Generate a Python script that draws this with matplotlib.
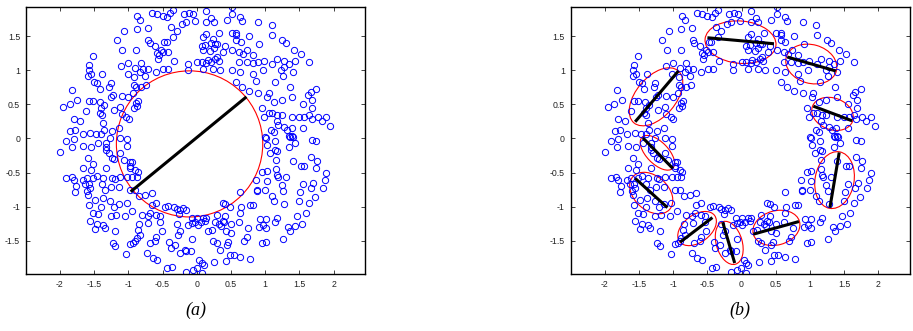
import numpy as np
import matplotlib
matplotlib.use("Agg")
from matplotlib import pyplot as plt
from matplotlib.patches import Ellipse

plt.rcParams['font.family'] = ['Liberation Sans', 'DejaVu Sans']

# scatter points (same set in both panels)
points = [
    (-0.87, 1.79), (-0.83, 1.74), (-0.65, 1.84), (-0.58, 1.83), (-0.50, 1.79), (-0.43, 1.78), (-0.35, 1.88),
    (-0.39, 1.84), (-0.19, 1.82), (-0.115, 1.84), (-0.05, 1.83), (-0.02, 1.72), (-0.15, 1.70), (-0.21, 1.68),
    (0.14, 1.86), (0.21, 1.77), (0.245, 1.70), (0.52, 1.93), (0.52, 1.83), (0.63, 1.78), (0.66, 1.72),
    (0.435, 1.74), (0.57, 1.55), (0.58, 1.52), (0.51, 1.54), (0.77, 1.50), (0.90, 1.70), (-0.37, 1.63),
    (-0.295, 1.57), (-0.34, 1.49), (-0.72, 1.62), (-0.88, 1.60), (-1.06, 1.57), (-1.17, 1.44), (-0.71, 1.44),
    (-0.69, 1.40), (-0.61, 1.35), (-0.48, 1.41), (-0.44, 1.41), (-0.52, 1.29), (-0.49, 1.26), (-0.42, 1.27),
    (-0.58, 1.25), (-0.56, 1.17), (-0.55, 1.22), (-0.89, 1.29), (-1.09, 1.29), (-1.51, 1.21), (-1.57, 1.07),
    (-1.58, 1.00), (-1.55, 0.95), (-1.385, 0.95), (-1.59, 0.91), (-1.50, 0.82), (-1.46, 0.81), (-1.42, 0.73),
    (-1.26, 0.81), (-1.28, 0.76), (-1.22, 0.63), (-1.25, 0.60), (-1.82, 0.71), (-1.95, 0.46), (-1.86, 0.51),
    (-1.75, 0.57), (-1.575, 0.545), (-1.52, 0.545), (-1.41, 0.53), (-1.36, 0.49), (-1.395, 0.44), (-1.42, 0.37),
    (-1.39, 0.34), (-1.62, 0.40), (-1.80, 0.29), (-1.71, 0.26), (-1.85, 0.11), (-1.78, 0.12), (-1.67, 0.07),
    (-1.56, 0.08), (-1.47, 0.07), (-1.40, 0.07), (-1.35, 0.13), (-1.37, 0.22), (-1.24, 0.11), (-1.14, 0.16),
    (-1.215, 0.41), (-1.12, 0.46), (-1.10, 0.36), (-1.035, 0.31), (-0.995, 0.29), (-1.10, 0.62), (-1.00, 0.60),
    (-0.89, 0.52), (-0.87, 0.47), (-0.92, 0.45), (-0.86, 0.55), (-0.92, 0.78), (-0.89, 0.75), (-0.815, 0.76),
    (-0.74, 0.78), (-0.93, 0.67), (-0.92, 0.90), (-0.90, 1.03), (-0.83, 0.97), (-0.78, 1.02), (-0.71, 1.01),
    (-0.75, 0.91), (-0.81, 1.11), (-1.00, 1.10), (-1.11, 1.06), (-1.01, 0.95), (-0.59, 0.98), (-0.49, 1.01),
    (-0.42, 1.01), (-0.33, 1.13), (-0.13, 1.09), (-0.13, 1.00), (0.00, 1.115), (0.07, 1.115), (0.09, 1.01),
    (0.14, 1.10), (0.16, 1.15), (0.21, 1.115), (0.24, 1.02), (0.27, 1.16), (0.32, 1.13), (0.34, 1.00),
    (0.51, 1.00), (0.63, 0.98), (0.62, 1.12), (0.73, 1.12), (0.68, 1.24), (0.62, 1.26), (0.74, 1.30),
    (0.82, 1.22), (0.82, 1.10), (0.90, 1.12), (0.82, 0.95), (0.86, 0.84), (0.76, 0.70), (0.66, 0.75),
    (0.58, 0.82), (0.245, 1.32), (0.265, 1.39), (0.24, 1.45), (0.21, 1.40), (0.30, 1.39), (0.12, 1.37),
    (0.09, 1.48), (0.14, 1.53), (0.07, 1.35), (0.09, 1.29), (0.20, 1.28), (0.41, 1.35), (0.39, 1.27),
    (0.30, 1.20), (0.33, 1.54), (0.64, 1.42), (0.58, 1.44), (0.52, 1.30), (0.14, 1.70),
    (1.094, 1.665), (1.104, 1.51), (0.91, 1.39), (1.25, 1.44), (1.31, 1.40), (1.42, 1.29), (1.53, 1.24),
    (1.64, 1.12), (0.98, 1.13), (0.97, 1.00), (1.104, 1.095), (1.167, 1.17), (1.28, 1.14), (1.35, 1.095),
    (1.435, 1.13), (1.40, 0.97), (1.23, 1.00), (1.28, 1.05), (1.265, 0.91), (1.15, 0.83), (1.37, 0.755),
    (0.90, 0.66), (1.05, 0.67), (1.03, 0.61), (1.13, 0.54), (1.24, 0.565), (1.396, 0.60), (1.55, 0.51),
    (1.63, 0.63), (1.664, 0.682), (1.75, 0.73), (1.69, 0.56), (1.69, 0.45), (0.95, 0.44), (0.98, 0.32),
    (1.05, 0.375), (1.104, 0.375), (1.177, 0.34), (1.24, 0.34), (1.167, 0.26), (1.19, 0.195), (1.28, 0.17),
    (1.32, 0.13), (1.386, 0.146), (1.35, 0.035), (1.396, 0.035), (1.396, 0.307), (1.50, 0.307), (1.566, 0.307),
    (1.64, 0.34), (1.68, 0.28), (1.766, 0.307), (1.825, 0.254), (1.888, 0.307), (1.946, 0.18), (1.56, 0.16),
    (1.085, 0.13), (1.133, 0.098), (0.997, 0.025),
    (-1.998, -0.195), (-1.91, -0.035), (-1.80, -0.01), (-1.82, -0.12), (-1.66, -0.11), (-1.54, -0.12),
    (-1.44, -0.07), (-1.33, -0.07), (-1.32, -0.12), (-1.27, 0.0), (-1.12, 0.0), (-1.015, -0.01), (-1.02, -0.11),
    (-1.33, -0.17), (-1.29, -0.22), (-1.24, -0.28), (-1.21, -0.30), (-1.12, -0.22), (-1.07, -0.32),
    (-1.585, -0.28), (-1.51, -0.38), (-1.55, -0.46), (-1.66, -0.43), (-1.32, -0.44), (-0.98, -0.34),
    (-0.95, -0.34), (-0.97, -0.41), (-0.98, -0.44), (-0.90, -0.46), (-0.864, -0.497), (-0.88, -0.56),
    (-0.94, -0.56), (-1.015, -0.56), (-1.12, -0.57), (-1.24, -0.575), (-1.365, -0.585), (-1.46, -0.545),
    (-1.51, -0.585), (-1.61, -0.575), (-1.67, -0.61), (-1.83, -0.56), (-1.91, -0.575), (-1.80, -0.61),
    (-1.76, -0.69), (-1.78, -0.78), (-1.63, -0.66), (-1.57, -0.67), (-1.56, -0.73), (-1.60, -0.77),
    (-1.585, -0.83), (-1.57, -0.97), (-1.49, -0.90), (-1.375, -0.877), (-1.39, -0.66), (-1.34, -0.755),
    (-1.25, -0.706), (-1.27, -0.915), (-1.13, -0.706), (-1.20, -0.60), (-0.98, -0.755), (-0.90, -0.755),
    (-0.84, -0.84), (-0.76, -0.83), (-0.66, -0.80), (-1.13, -0.964), (-1.025, -0.95), (-0.95, -1.07),
    (-1.05, -1.14), (-1.18, -1.12), (-1.26, -1.14), (-1.21, -1.00), (-1.40, -1.01), (-1.52, -1.095),
    (-1.44, -1.11), (-1.56, -1.21), (-1.46, -1.26), (-1.365, -1.27), (-1.34, -1.31), (-1.49, -1.33),
    (-1.195, -1.36), (-1.23, -1.53), (-1.195, -1.58), (-1.035, -1.69), (-0.976, -1.55), (-0.90, -1.50),
    (-0.88, -1.46), (-0.93, -1.53), (-0.84, -1.26), (-0.855, -1.34), (-0.83, -1.41), (-0.806, -1.12),
    (-0.685, -1.096), (-0.72, -1.14), (-0.71, -1.24), (-0.59, -0.95), (-0.66, -0.97), (-0.597, -1.12),
    (-0.53, -1.14), (-0.54, -1.22), (-0.514, -1.36), (-0.59, -1.44), (-0.61, -1.50), (-0.69, -1.53),
    (-0.73, -1.68), (-0.645, -1.75), (-0.577, -1.78), (-0.43, -1.90), (-0.368, -1.88), (-0.40, -1.51),
    (-0.383, -1.61), (-0.32, -1.56), (-0.27, -1.41), (-0.246, -1.36), (-0.42, -0.99), (-0.465, -1.00),
    (-0.33, -1.00), (-0.295, -1.03), (-0.246, -1.047), (-0.20, -1.013), (-0.15, -1.047), (-0.256, -1.11),
    (-0.173, -1.63), (-0.15, -1.65), (-0.085, -1.655), (-0.246, -1.68), (-0.066, -1.475), (-0.15, -1.95),
    (-0.06, -1.92), (-0.003, -1.90), (0.07, -1.97), (0.07, -1.83), (0.036, -1.78), (0.10, -1.85),
    (0.25, -1.81), (0.425, -1.80), (0.48, -1.70), (0.54, -1.71), (0.63, -1.73), (0.775, -1.76),
    (-0.125, -1.27), (-0.066, -1.24), (-0.027, -1.22), (0.012, -1.27), (0.055, -1.23), (0.12, -1.21),
    (0.094, -1.16), (0.167, -1.35), (0.23, -1.34), (0.265, -1.22), (0.29, -1.12), (0.33, -1.26),
    (0.377, -1.21), (0.36, -1.28), (0.40, -1.23), (0.41, -1.14), (0.508, -1.26), (0.508, -1.39),
    (0.425, -1.36), (0.24, -1.50), (0.29, -1.53), (0.46, -1.51), (0.435, -1.56), (0.34, -1.63),
    (0.14, -1.17), (0.377, -0.95), (0.41, -0.96), (0.48, -1.00), (0.63, -0.79), (0.65, -1.00),
    (0.63, -1.095), (0.62, -1.22), (0.75, -1.31), (0.73, -1.44), (0.69, -1.50), (0.785, -0.97),
    (0.82, -0.98), (0.88, -0.755), (0.87, -0.61), (-0.295, -1.26), (0.0, -1.16), (-0.076, -1.17),
    (1.01, 0.0), (1.143, -0.04), (1.36, 0.024), (1.41, 0.024), (1.435, -0.06), (1.35, -0.12), (1.68, -0.025),
    (1.74, -0.04), (1.03, -0.098), (1.07, -0.22), (1.143, -0.17), (1.18, -0.18), (1.16, -0.32), (1.40, -0.33),
    (1.67, -0.27), (1.76, -0.33), (1.75, -0.44), (1.53, -0.40), (1.57, -0.41), (0.95, -0.49), (1.02, -0.48),
    (1.16, -0.453), (1.18, -0.53), (1.19, -0.56), (1.31, -0.57), (1.888, -0.50), (1.87, -0.61), (1.84, -0.73),
    (1.70, -0.65), (1.664, -0.73), (1.56, -0.67), (1.51, -0.79), (1.73, -0.86), (1.64, -0.95), (1.50, -0.915),
    (1.24, -0.68), (1.265, -0.77), (1.02, -0.63), (1.0, -0.755), (0.885, -0.77), (1.094, -0.837),
    (1.133, -0.915), (1.28, -0.96), (1.47, -1.14), (1.59, -1.09), (1.177, -1.16), (1.14, -1.23), (0.93, -1.18),
    (1.01, -1.18), (0.91, -1.29), (0.97, -1.27), (1.01, -1.305), (1.34, -1.29), (1.37, -1.35), (1.435, -1.28),
    (1.54, -1.26), (1.265, -1.475), (0.95, -1.53), (1.01, -1.51),
]

# panel (a): one circle with a diameter
circ_center = (-0.105, -0.08)
circ_radius = 1.07
diam_x = [-0.966, 0.727]
diam_y = [-0.78, 0.61]

# panel (b): ellipse components and their main axes
ell_cx = [-1.25, -1.23, -1.32, -0.65, -0.18, 0.51, 1.36, 1.33, 1.02, -0.015]
ell_cy = [0.61, -0.21, -0.80, -1.32, -1.53, -1.31, -0.61, 0.36, 1.09, 1.41]
ell_a = [0.50, 0.32, 0.36, 0.32, 0.325, 0.35, 0.42, 0.313, 0.38, 0.52]
ell_b = [0.29, 0.16, 0.25, 0.20, 0.19, 0.25, 0.285, 0.231, 0.283, 0.31]
ell_ang = [49.7, -45.6, -42, 37, -73.7, 15.5, 80, -20.7, -16, -5]
seg_x0 = [-1.555, -1.443, -1.555, -0.898, -0.275, 0.173, 1.292, 1.049, 0.669, -0.499]
seg_y0 = [0.244, 0.009, -0.585, -1.519, -1.227, -1.402, -1.013, 0.473, 1.193, 1.475]
seg_x1 = [-0.923, -1.005, -1.083, -0.426, -0.10, 0.839, 1.428, 1.618, 1.379, 0.474]
seg_y1 = [0.988, -0.439, -1.013, -1.159, -1.825, -1.217, -0.205, 0.258, 0.988, 1.387]

xticks = [-2, -1.5, -1, -0.5, 0, 0.5, 1, 1.5, 2]
yticks = [-1.5, -1, -0.5, 0, 0.5, 1, 1.5]
captions = ['(a)', '(b)']

pts = np.array(points)

fig = plt.figure(figsize=(9.13, 3.31), dpi=100)
ax_a = fig.add_axes([0.0282, 0.1713, 0.3716, 0.8085])
ax_b = fig.add_axes([0.6249, 0.1713, 0.3716, 0.8085])


def style(ax):
    ax.set_xlim(-2.5, 2.46)
    ax.set_ylim(-1.99, 1.93)
    ax.set_xticks(xticks)
    ax.set_xticklabels(['%g' % t for t in xticks])
    ax.set_yticks(yticks)
    ax.set_yticklabels(['%g' % t for t in yticks])
    ax.tick_params(direction='in', top=True, right=True, length=3, width=0.6,
                   labelsize=6.3, pad=4, colors='#222222')
    for s in ax.spines.values():
        s.set_linewidth(1.0)


for ax in (ax_a, ax_b):
    ax.plot(pts[:, 0], pts[:, 1], 'o', ms=4.5, mfc='none', mec='#0000ff', mew=0.7)
    style(ax)

# (a)
ax_a.add_patch(Ellipse(circ_center, 2 * circ_radius, 2 * circ_radius, fill=False, ec='red', lw=0.8))
ax_a.plot(diam_x, diam_y, color='k', lw=2.2, solid_capstyle='butt')

# (b)
for i in range(len(ell_cx)):
    ax_b.add_patch(Ellipse((ell_cx[i], ell_cy[i]), 2 * ell_a[i], 2 * ell_b[i], angle=ell_ang[i],
                           fill=False, ec='red', lw=0.8))
    ax_b.plot([seg_x0[i], seg_x1[i]], [seg_y0[i], seg_y1[i]], color='k', lw=2.2, solid_capstyle='butt')

for ax, cap in zip((ax_a, ax_b), captions):
    pos = ax.get_position()
    fig.text((pos.x0 + pos.x1) / 2, 0.063, cap, ha='center', va='center',
             fontsize=13, style='italic', family='Liberation Serif')

fig.savefig('out.png', dpi=100)
